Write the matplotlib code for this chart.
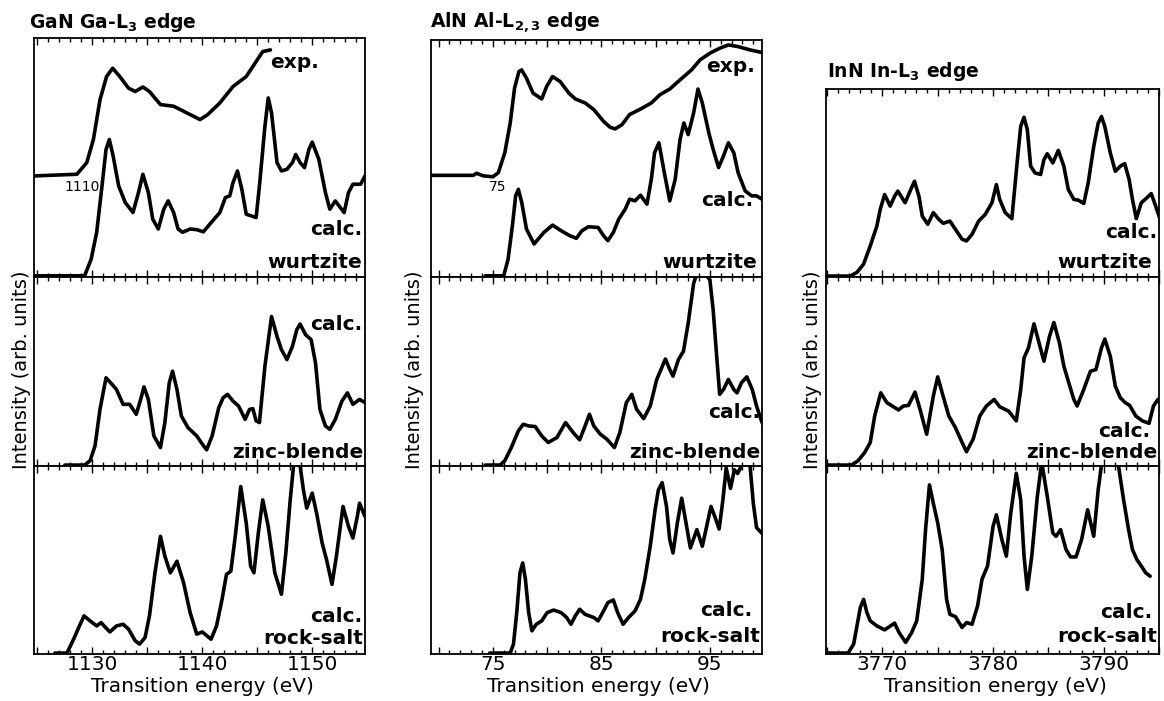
import matplotlib
matplotlib.use('Agg')
import matplotlib.pyplot as plt
from matplotlib.ticker import MultipleLocator, FuncFormatter

# spectra: (energy eV, intensity in panel units)
gan_exp = [(1124.7, 0.42), (1128.6, 0.427), (1129.5, 0.476), (1130.1, 0.573), (1130.7, 0.74),
           (1131.3, 0.838), (1131.85, 0.873), (1132.5, 0.838), (1133.3, 0.789), (1133.9, 0.775),
           (1134.6, 0.794), (1135.2, 0.775), (1136.2, 0.72), (1137.4, 0.713), (1138.3, 0.692),
           (1139.2, 0.671), (1139.8, 0.657), (1140.5, 0.678), (1141.6, 0.727), (1142.8, 0.796),
           (1144.0, 0.838), (1144.9, 0.901), (1145.5, 0.943), (1146.2, 0.95)]
gan_wz = [(1124.7, 0), (1129.3, 0), (1129.9, 0.07), (1130.4, 0.183), (1130.85, 0.364), (1131.25, 0.531),
          (1131.55, 0.573), (1131.9, 0.503), (1132.4, 0.378), (1133.0, 0.308), (1133.7, 0.266),
          (1134.2, 0.35), (1134.6, 0.427), (1135.1, 0.35), (1135.5, 0.238), (1136.0, 0.197),
          (1136.5, 0.28), (1136.9, 0.315), (1137.4, 0.266), (1137.8, 0.197), (1138.2, 0.183),
          (1138.9, 0.197), (1139.5, 0.194), (1140.1, 0.185), (1140.7, 0.218), (1141.6, 0.266),
          (1142.1, 0.329), (1142.5, 0.336), (1142.8, 0.392), (1143.2, 0.441), (1143.6, 0.364),
          (1144.0, 0.259), (1144.9, 0.245), (1145.2, 0.378), (1145.7, 0.629), (1146.0, 0.748),
          (1146.3, 0.685), (1146.8, 0.476), (1147.2, 0.441), (1147.7, 0.448), (1148.2, 0.476),
          (1148.5, 0.51), (1148.9, 0.476), (1149.3, 0.455), (1149.7, 0.531), (1150.0, 0.562),
          (1150.6, 0.49), (1151.2, 0.35), (1151.6, 0.28), (1152.1, 0.315), (1152.9, 0.266),
          (1153.3, 0.35), (1153.7, 0.385), (1154.4, 0.385), (1154.8, 0.42)]
gan_zb = [(1127.5, 0), (1129.3, 0), (1129.8, 0.023), (1130.25, 0.102), (1130.7, 0.296), (1131.25, 0.464),
          (1131.8, 0.429), (1132.2, 0.402), (1132.8, 0.323), (1133.4, 0.323), (1134.0, 0.27),
          (1134.4, 0.349), (1134.7, 0.416), (1135.1, 0.349), (1135.6, 0.155), (1136.2, 0.093),
          (1136.6, 0.226), (1137.0, 0.437), (1137.3, 0.499), (1137.7, 0.402), (1138.1, 0.261),
          (1138.7, 0.199), (1139.5, 0.155), (1139.9, 0.12), (1140.4, 0.081), (1140.9, 0.155),
          (1141.5, 0.305), (1141.9, 0.358), (1142.3, 0.376), (1142.8, 0.34), (1143.3, 0.314),
          (1143.9, 0.243), (1144.3, 0.296), (1144.6, 0.3), (1144.9, 0.235), (1145.2, 0.226),
          (1145.7, 0.526), (1146.3, 0.79), (1146.8, 0.684), (1147.2, 0.614), (1147.7, 0.561),
          (1148.2, 0.631), (1148.6, 0.72), (1148.9, 0.75), (1149.4, 0.693), (1149.9, 0.667),
          (1150.3, 0.543), (1150.7, 0.296), (1151.2, 0.208), (1151.6, 0.19), (1152.1, 0.243),
          (1152.7, 0.34), (1153.2, 0.384), (1153.7, 0.323), (1154.3, 0.349), (1154.8, 0.332)]
gan_rs = [(1126.6, 0), (1127.7, 0), (1128.3, 0.074), (1128.9, 0.154), (1129.25, 0.199), (1129.8, 0.172),
          (1130.4, 0.145), (1130.8, 0.163), (1131.2, 0.137), (1131.6, 0.113), (1132.2, 0.145),
          (1132.8, 0.154), (1133.3, 0.128), (1133.9, 0.066), (1134.3, 0.048), (1134.8, 0.083),
          (1135.2, 0.199), (1135.7, 0.429), (1136.2, 0.624), (1136.6, 0.518), (1137.1, 0.429),
          (1137.7, 0.491), (1138.3, 0.376), (1138.9, 0.216), (1139.5, 0.101), (1140.0, 0.113),
          (1140.8, 0.074), (1141.3, 0.145), (1141.8, 0.287), (1142.2, 0.42), (1142.6, 0.438),
          (1143.0, 0.624), (1143.5, 0.89), (1144.0, 0.695), (1144.4, 0.465), (1144.7, 0.429),
          (1145.1, 0.642), (1145.5, 0.819), (1146.0, 0.677), (1146.6, 0.429), (1147.2, 0.314),
          (1147.6, 0.535), (1148.0, 0.819), (1148.3, 1.0), (1148.6, 1.08), (1148.9, 1.0),
          (1149.2, 0.872), (1149.5, 0.775), (1150.0, 0.855), (1150.4, 0.748), (1150.9, 0.589),
          (1151.3, 0.5), (1151.8, 0.367), (1152.2, 0.518), (1152.8, 0.784), (1153.3, 0.677),
          (1153.7, 0.615), (1154.1, 0.73), (1154.3, 0.801), (1154.8, 0.73)]

aln_exp = [(69.3, 0.426), (73.2, 0.426), (73.5, 0.435), (74.1, 0.424), (75.0, 0.42), (75.5, 0.437),
           (76.1, 0.522), (76.6, 0.648), (77.0, 0.796), (77.4, 0.866), (77.65, 0.873), (78.1, 0.838),
           (78.7, 0.775), (79.5, 0.75), (79.96, 0.803), (80.5, 0.845), (81.2, 0.824), (82.0, 0.775),
           (82.6, 0.75), (83.5, 0.733), (84.3, 0.705), (85.2, 0.655), (85.8, 0.63), (86.26, 0.623),
           (86.9, 0.641), (87.6, 0.684), (88.6, 0.707), (89.6, 0.733), (90.4, 0.768), (91.3, 0.792),
           (92.25, 0.831), (93.3, 0.873), (94.1, 0.916), (95.0, 0.944), (95.9, 0.965), (96.7, 0.979),
           (97.6, 0.972), (98.7, 0.958), (99.8, 0.947)]
aln_wz = [(74.3, 0), (76.0, 0), (76.4, 0.07), (76.8, 0.212), (77.1, 0.339), (77.35, 0.367), (77.66, 0.311),
          (78.1, 0.198), (78.8, 0.135), (79.7, 0.184), (80.5, 0.215), (81.3, 0.191), (82.1, 0.17),
          (82.7, 0.159), (83.2, 0.191), (83.8, 0.208), (84.7, 0.205), (85.2, 0.17), (85.6, 0.149),
          (86.1, 0.184), (86.6, 0.24), (87.2, 0.283), (87.6, 0.325), (88.1, 0.318), (88.6, 0.342),
          (89.2, 0.304), (89.6, 0.409), (89.9, 0.522), (90.3, 0.564), (90.8, 0.437), (91.3, 0.318),
          (91.8, 0.409), (92.25, 0.578), (92.6, 0.648), (93.0, 0.599), (93.5, 0.691), (93.9, 0.792),
          (94.3, 0.733), (94.9, 0.606), (95.3, 0.536), (95.8, 0.459), (96.25, 0.508), (96.7, 0.564),
          (97.2, 0.522), (97.6, 0.437), (98.25, 0.36), (98.85, 0.339), (99.3, 0.339), (99.8, 0.325)]
aln_zb = [(74.3, 0), (75.66, 0), (76.1, 0.023), (76.7, 0.093), (77.35, 0.182), (77.8, 0.217), (78.3, 0.208),
          (78.9, 0.205), (79.5, 0.155), (80.1, 0.12), (80.9, 0.146), (81.7, 0.226), (82.4, 0.173),
          (83.0, 0.134), (83.5, 0.208), (83.9, 0.27), (84.3, 0.208), (84.9, 0.164), (85.5, 0.138),
          (86.2, 0.093), (86.7, 0.173), (87.3, 0.332), (87.8, 0.376), (88.25, 0.296), (88.9, 0.247),
          (89.5, 0.314), (90.1, 0.455), (90.9, 0.564), (91.3, 0.508), (91.6, 0.473), (92.1, 0.561),
          (92.56, 0.605), (93.0, 0.755), (93.5, 0.966), (93.8, 1.02), (94.4, 1.03), (95.0, 0.984),
          (95.3, 0.825), (95.6, 0.596), (95.9, 0.376), (96.25, 0.402), (96.7, 0.455), (97.2, 0.402),
          (97.5, 0.384), (97.9, 0.437), (98.4, 0.469), (98.9, 0.402), (99.3, 0.314), (99.8, 0.226)]
aln_rs = [(74.7, 0), (76.6, 0), (76.9, 0.048), (77.2, 0.216), (77.5, 0.429), (77.75, 0.482), (78.0, 0.394),
          (78.3, 0.216), (78.6, 0.119), (79.0, 0.154), (79.5, 0.172), (80.0, 0.216), (80.6, 0.23),
          (81.3, 0.216), (81.8, 0.19), (82.2, 0.154), (82.6, 0.199), (83.0, 0.234), (83.5, 0.207),
          (84.3, 0.19), (84.7, 0.172), (85.2, 0.225), (85.6, 0.27), (86.1, 0.284), (86.5, 0.216),
          (87.0, 0.154), (87.5, 0.19), (88.1, 0.225), (88.6, 0.287), (89.0, 0.394), (89.5, 0.571),
          (89.95, 0.766), (90.25, 0.872), (90.6, 0.911), (91.0, 0.784), (91.3, 0.606), (91.6, 0.535),
          (92.0, 0.695), (92.4, 0.828), (92.8, 0.695), (93.2, 0.562), (93.8, 0.66), (94.3, 0.571),
          (94.7, 0.677), (95.1, 0.784), (95.5, 0.722), (95.85, 0.663), (96.2, 0.82), (96.5, 0.99),
          (96.9, 0.88), (97.25, 0.98), (97.55, 0.96), (97.9, 1.0), (98.3, 1.1), (98.7, 1.0),
          (99.0, 0.8), (99.3, 0.67), (99.8, 0.64)]

inn_wz = [(3765.0, 0), (3767.1, 0), (3767.7, 0.02), (3768.3, 0.064), (3768.9, 0.161), (3769.5, 0.268),
          (3769.8, 0.356), (3770.2, 0.436), (3770.7, 0.374), (3771.1, 0.427), (3771.4, 0.454),
          (3772.05, 0.392), (3772.5, 0.454), (3772.9, 0.507), (3773.3, 0.427), (3773.6, 0.321),
          (3774.1, 0.277), (3774.6, 0.339), (3775.1, 0.303), (3775.5, 0.282), (3776.1, 0.294),
          (3776.7, 0.241), (3777.2, 0.197), (3777.6, 0.188), (3778.1, 0.223), (3778.7, 0.294),
          (3779.3, 0.33), (3779.9, 0.392), (3780.3, 0.489), (3780.6, 0.41), (3781.1, 0.339),
          (3781.7, 0.307), (3782.2, 0.622), (3782.5, 0.8), (3782.8, 0.849), (3783.1, 0.782),
          (3783.4, 0.587), (3783.8, 0.551), (3784.3, 0.543), (3784.6, 0.622), (3784.9, 0.654),
          (3785.4, 0.605), (3785.9, 0.672), (3786.4, 0.587), (3786.8, 0.463), (3787.3, 0.41),
          (3787.7, 0.406), (3788.2, 0.388), (3788.6, 0.498), (3789.1, 0.693), (3789.5, 0.817),
          (3789.8, 0.853), (3790.1, 0.8), (3790.6, 0.658), (3791.05, 0.56), (3791.5, 0.587),
          (3791.9, 0.601), (3792.3, 0.516), (3792.6, 0.41), (3792.95, 0.307), (3793.4, 0.392),
          (3793.9, 0.418), (3794.3, 0.441), (3794.7, 0.374), (3795.1, 0.303)]
inn_zb = [(3765.0, 0), (3767.2, 0), (3767.8, 0.023), (3768.4, 0.067), (3768.9, 0.12), (3769.3, 0.261),
          (3769.85, 0.384), (3770.4, 0.332), (3770.8, 0.317), (3771.45, 0.293), (3771.9, 0.314),
          (3772.35, 0.317), (3772.95, 0.388), (3773.4, 0.296), (3774.0, 0.164), (3774.6, 0.367),
          (3775.0, 0.469), (3775.4, 0.384), (3776.0, 0.261), (3776.6, 0.199), (3777.2, 0.12),
          (3777.6, 0.071), (3778.2, 0.138), (3778.8, 0.261), (3779.4, 0.314), (3780.1, 0.349),
          (3780.6, 0.31), (3781.4, 0.287), (3782.1, 0.235), (3782.5, 0.402), (3782.8, 0.57),
          (3783.2, 0.623), (3783.7, 0.751), (3784.2, 0.64), (3784.6, 0.552), (3785.1, 0.684),
          (3785.5, 0.758), (3786.0, 0.649), (3786.4, 0.526), (3786.8, 0.446), (3787.3, 0.349),
          (3787.6, 0.314), (3788.2, 0.402), (3788.8, 0.499), (3789.3, 0.508), (3789.8, 0.623),
          (3790.1, 0.67), (3790.6, 0.578), (3791.05, 0.42), (3791.5, 0.358), (3791.95, 0.332),
          (3792.35, 0.317), (3792.9, 0.261), (3793.5, 0.235), (3794.1, 0.222), (3794.5, 0.314),
          (3794.9, 0.349), (3795.3, 0.323)]
inn_rs = [(3765.0, 0), (3766.9, 0), (3767.4, 0.048), (3767.7, 0.145), (3768.0, 0.243), (3768.3, 0.287),
          (3768.6, 0.216), (3768.9, 0.172), (3769.5, 0.145), (3770.2, 0.124), (3771.1, 0.16),
          (3771.5, 0.11), (3772.1, 0.057), (3772.65, 0.11), (3773.1, 0.172), (3773.6, 0.394),
          (3773.9, 0.66), (3774.25, 0.899), (3774.6, 0.801), (3775.0, 0.695), (3775.4, 0.553),
          (3775.8, 0.287), (3776.1, 0.207), (3776.6, 0.195), (3777.2, 0.137), (3777.6, 0.163),
          (3778.1, 0.154), (3778.6, 0.252), (3779.0, 0.394), (3779.5, 0.465), (3780.0, 0.677),
          (3780.3, 0.739), (3780.8, 0.606), (3781.2, 0.518), (3781.6, 0.748), (3782.1, 0.961),
          (3782.5, 0.819), (3782.8, 0.518), (3783.1, 0.34), (3783.5, 0.518), (3784.0, 0.837),
          (3784.4, 1.02), (3784.9, 0.837), (3785.4, 0.642), (3785.7, 0.624), (3786.1, 0.66),
          (3786.6, 0.553), (3787.0, 0.514), (3787.5, 0.514), (3788.0, 0.606), (3788.55, 0.766),
          (3789.1, 0.624), (3789.5, 0.872), (3789.8, 1.005), (3790.6, 1.12), (3791.35, 0.996),
          (3791.8, 0.819), (3792.25, 0.66), (3792.6, 0.553), (3793.0, 0.5), (3793.5, 0.456),
          (3793.8, 0.429), (3794.2, 0.411)]

W, H = 1164, 701
plt.rcParams['font.family'] = ['DejaVu Sans']
plt.rcParams['mathtext.fontset'] = 'dejavusans'

fig = plt.figure(figsize=(W / 100, H / 100), dpi=100)


def px(x, y):
    return x / W, 1 - y / H


def add_ax(x0, x1, y0, y1):
    return fig.add_axes([x0 / W, 1 - y1 / H, (x1 - x0) / W, (y1 - y0) / H])


columns = [
    dict(x0=34, x1=365, top=38, xlim=(1124.7, 1154.8), labels=[1130, 1140, 1150],
         curves=[[gan_exp, gan_wz], [gan_zb], [gan_rs]]),
    dict(x0=431, x1=762, top=40, xlim=(69.3, 99.8), labels=[75, 85, 95],
         curves=[[aln_exp, aln_wz], [aln_zb], [aln_rs]]),
    dict(x0=826, x1=1159, top=89, xlim=(3764.9, 3795.0), labels=[3770, 3780, 3790],
         curves=[[inn_wz], [inn_zb], [inn_rs]]),
]

for col in columns:
    bounds = [col['top'], 277, 466, 654]
    for k in range(3):
        ax = add_ax(col['x0'], col['x1'], bounds[k], bounds[k + 1])
        for c in col['curves'][k]:
            xs, ys = zip(*c)
            ax.plot(xs, ys, color='black', lw=2.6, solid_joinstyle='round', solid_capstyle='round')
        ax.set_xlim(*col['xlim'])
        ax.set_ylim(-0.005, 1)
        ax.set_yticks([])
        ax.xaxis.set_major_locator(MultipleLocator(5))
        ax.xaxis.set_minor_locator(MultipleLocator(1))
        ax.tick_params(which='both', direction='in', top=True, bottom=True, width=1)
        ax.tick_params(which='major', length=5)
        ax.tick_params(which='minor', length=3)
        for s in ax.spines.values():
            s.set_linewidth(1.3)
        if k == 2:
            labs = col['labels']
            ax.xaxis.set_major_formatter(
                FuncFormatter(lambda v, p, labs=labs: '%d' % round(v) if round(v) in labs else ''))
            ax.tick_params(axis='x', labelsize=14.5, pad=1)
        else:
            ax.tick_params(axis='x', labelbottom=False)

# titles
fig.text(*px(29, 28), r'GaN Ga-L$_\mathbf{3}$ edge', fontsize=13.5, fontweight='bold', va='baseline')
fig.text(*px(430, 28), r'AlN Al-L$_\mathbf{2,3}$ edge', fontsize=13.5, fontweight='bold', va='baseline')
fig.text(*px(827, 77), r'InN In-L$_\mathbf{3}$ edge', fontsize=13.5, fontweight='bold', va='baseline')

# axis labels
for x in [22, 414, 813]:
    fig.text(*px(x, 370), 'Intensity (arb. units)', rotation=90, fontsize=14, ha='center', va='center')
for x, y in [(202, 686), (598, 687), (995, 687)]:
    fig.text(*px(x, y), 'Transition energy (eV)', fontsize=14.5, ha='center', va='center')

# stray tick labels from the experimental axis
fig.text(*px(82, 187), '1110', fontsize=10, ha='center', va='center')
fig.text(*px(498, 187), '75', fontsize=10, ha='center', va='center')

# curve labels
curve_labels = [
    ('exp.', 270, 62, 'left'), ('calc.', 362, 230, 'right'), ('wurtzite', 362, 263, 'right'),
    ('calc.', 362, 325, 'right'), ('zinc-blende', 363, 452, 'right'),
    ('calc.', 362, 617, 'right'), ('rock-salt', 363, 638, 'right'),
    ('exp.', 755, 67, 'right'), ('calc.', 753, 200, 'right'), ('wurtzite', 757, 263, 'right'),
    ('calc.', 760, 413, 'right'), ('zinc-blende', 760, 452, 'right'),
    ('calc.', 752, 610, 'right'), ('rock-salt', 760, 637, 'right'),
    ('calc.', 1157, 232, 'right'), ('wurtzite', 1152, 262, 'right'),
    ('calc.', 1150, 432, 'right'), ('zinc-blende', 1157, 453, 'right'),
    ('calc.', 1152, 612, 'right'), ('rock-salt', 1157, 637, 'right'),
]
for txt, x, y, ha in curve_labels:
    fig.text(*px(x, y), txt, fontsize=14.5, fontweight='bold', ha=ha, va='center')

fig.savefig('out.png', dpi=100)
